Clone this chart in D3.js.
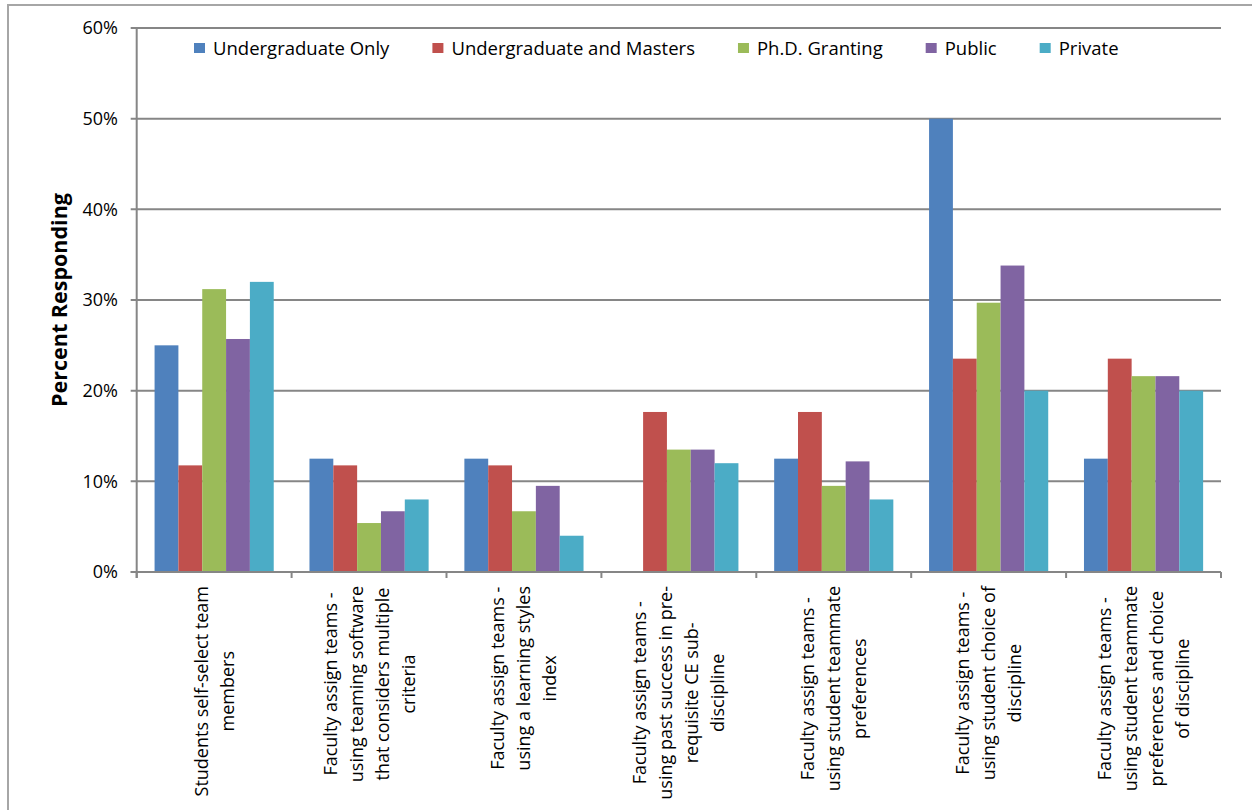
<!DOCTYPE html>
<html>
<head>
<meta charset="utf-8">
<script src="https://cdn.jsdelivr.net/npm/d3@7"></script>
<style>
  html, body { margin: 0; padding: 0; background: #fff; }
  svg { display: block; }
  text { font-family: "Open Sans", "Noto Sans", sans-serif; fill: #000; }
</style>
</head>
<body>
<svg id="chart" width="1252" height="810"></svg>
<script>
// Team formation methods, grouped by institution type
const categories = [
  ["Students self-select team", "members"],
  ["Faculty assign teams -", "using teaming software", "that considers multiple", "criteria"],
  ["Faculty assign teams -", "using a learning styles", "index"],
  ["Faculty assign teams -", "using past success in pre-", "requisite CE sub-", "discipline"],
  ["Faculty assign teams -", "using student teammate", "preferences"],
  ["Faculty assign teams -", "using student choice of", "discipline"],
  ["Faculty assign teams -", "using student teammate", "preferences and choice", "of discipline"]
];

const seriesNames = ["Undergraduate Only", "Undergraduate and Masters", "Ph.D. Granting", "Public", "Private"];
const seriesColors = ["#4F81BD", "#C0504D", "#9BBB59", "#8064A2", "#4BACC6"];

// Percent responding, one array per series (same order as categories)
const undergradOnly    = [25.0, 12.5, 12.5, 0.0, 12.5, 50.0, 12.5];
const undergradMasters = [11.76, 11.76, 11.76, 17.65, 17.65, 23.53, 23.53];
const phdGranting      = [31.2, 5.4, 6.7, 13.5, 9.5, 29.7, 21.6];
const publicInst       = [25.7, 6.7, 9.5, 13.5, 12.2, 33.8, 21.6];
const privateInst      = [32.0, 8.0, 4.0, 12.0, 8.0, 20.0, 20.0];

const yTicks = [0, 10, 20, 30, 40, 50, 60];
const yTitle = "Percent Responding";

const seriesValues = [undergradOnly, undergradMasters, phdGranting, publicInst, privateInst];

const svg = d3.select("#chart");
const W = 1252, H = 810;
const plot = { left: 136.7, right: 1221, top: 28, bottom: 572 };
const gridColor = "#868686";

svg.append("rect").attr("width", W).attr("height", H).attr("fill", "#fff");

// outer chart frame
svg.append("rect")
  .attr("x", 8).attr("y", 5)
  .attr("width", W + 20).attr("height", H + 20)
  .attr("fill", "none").attr("stroke", "#a6a6a6").attr("stroke-width", 2);

const x0 = d3.scaleBand()
  .domain(d3.range(categories.length))
  .range([plot.left, plot.right])
  .paddingInner(0).paddingOuter(0);

const x1 = d3.scaleBand()
  .domain(d3.range(seriesNames.length))
  .range([0, x0.bandwidth()])
  .paddingInner(0)
  .paddingOuter(0.75);

const y = d3.scaleLinear().domain([0, 60]).range([plot.bottom, plot.top]);

// horizontal gridlines (extend left to form the tick marks)
svg.append("g")
  .selectAll("line")
  .data(yTicks)
  .join("line")
  .attr("x1", plot.left - 6).attr("x2", plot.right)
  .attr("y1", d => y(d)).attr("y2", d => y(d))
  .attr("stroke", gridColor).attr("stroke-width", 2);

// bars
const rows = categories.map((c, i) => seriesValues.map((vals, s) => ({ cat: i, s, v: vals[i] })));
svg.append("g")
  .selectAll("g")
  .data(rows)
  .join("g")
  .attr("transform", (d, i) => `translate(${x0(i)},0)`)
  .selectAll("rect")
  .data(d => d)
  .join("rect")
  .attr("x", d => x1(d.s))
  .attr("width", x1.bandwidth())
  .attr("y", d => y(d.v))
  .attr("height", d => y(0) - y(d.v))
  .attr("fill", d => seriesColors[d.s]);

// y axis line
svg.append("line")
  .attr("x1", plot.left).attr("x2", plot.left)
  .attr("y1", plot.top).attr("y2", plot.bottom + 6)
  .attr("stroke", gridColor).attr("stroke-width", 2);

// x axis line and category boundary ticks
svg.append("line")
  .attr("x1", plot.left - 6).attr("x2", plot.right)
  .attr("y1", plot.bottom).attr("y2", plot.bottom)
  .attr("stroke", gridColor).attr("stroke-width", 2);
svg.append("g")
  .selectAll("line")
  .data(d3.range(categories.length + 1))
  .join("line")
  .attr("x1", i => plot.left + i * x0.step())
  .attr("x2", i => plot.left + i * x0.step())
  .attr("y1", plot.bottom).attr("y2", plot.bottom + 6)
  .attr("stroke", gridColor).attr("stroke-width", 2);

// y tick labels
svg.append("g")
  .selectAll("text")
  .data(yTicks)
  .join("text")
  .attr("x", 118)
  .attr("y", d => y(d))
  .attr("dy", "0.36em")
  .attr("text-anchor", "end")
  .style("font-size", "18px")
  .text(d => d + "%");

// y axis title
svg.append("text")
  .attr("transform", `translate(67,${(plot.top + plot.bottom) / 2}) rotate(-90)`)
  .attr("text-anchor", "middle")
  .style("font-size", "21.5px")
  .style("font-weight", "bold")
  .text(yTitle);

// category labels, rotated, top of longest line just under the axis
const lineH = 26;
const labelGroups = svg.append("g")
  .selectAll("g")
  .data(categories)
  .join("g");
labelGroups.each(function (lines, i) {
  const g = d3.select(this);
  const n = lines.length;
  const texts = g.selectAll("text")
    .data(lines)
    .join("text")
    .attr("text-anchor", "middle")
    .attr("x", 0)
    .attr("y", (d, k) => (k - (n - 1) / 2) * lineH)
    .attr("dy", "0.36em")
    .style("font-size", "18px")
    .text(d => d);
  let maxW = 0;
  texts.each(function () { maxW = Math.max(maxW, this.getComputedTextLength()); });
  const cx = x0(i) + x0.bandwidth() / 2;
  g.attr("transform", `translate(${cx},${586 + maxW / 2}) rotate(-90)`);
});

// legend across the top of the plot
const legend = svg.append("g");
let lx = 194;
seriesNames.forEach((name, s) => {
  legend.append("rect")
    .attr("x", lx).attr("y", 43)
    .attr("width", 11).attr("height", 10)
    .attr("fill", seriesColors[s]);
  const t = legend.append("text")
    .attr("x", lx + 19).attr("y", 55)
    .style("font-size", "18.5px")
    .text(name);
  lx += 19 + t.node().getComputedTextLength() + 43;
});
</script>
</body>
</html>
